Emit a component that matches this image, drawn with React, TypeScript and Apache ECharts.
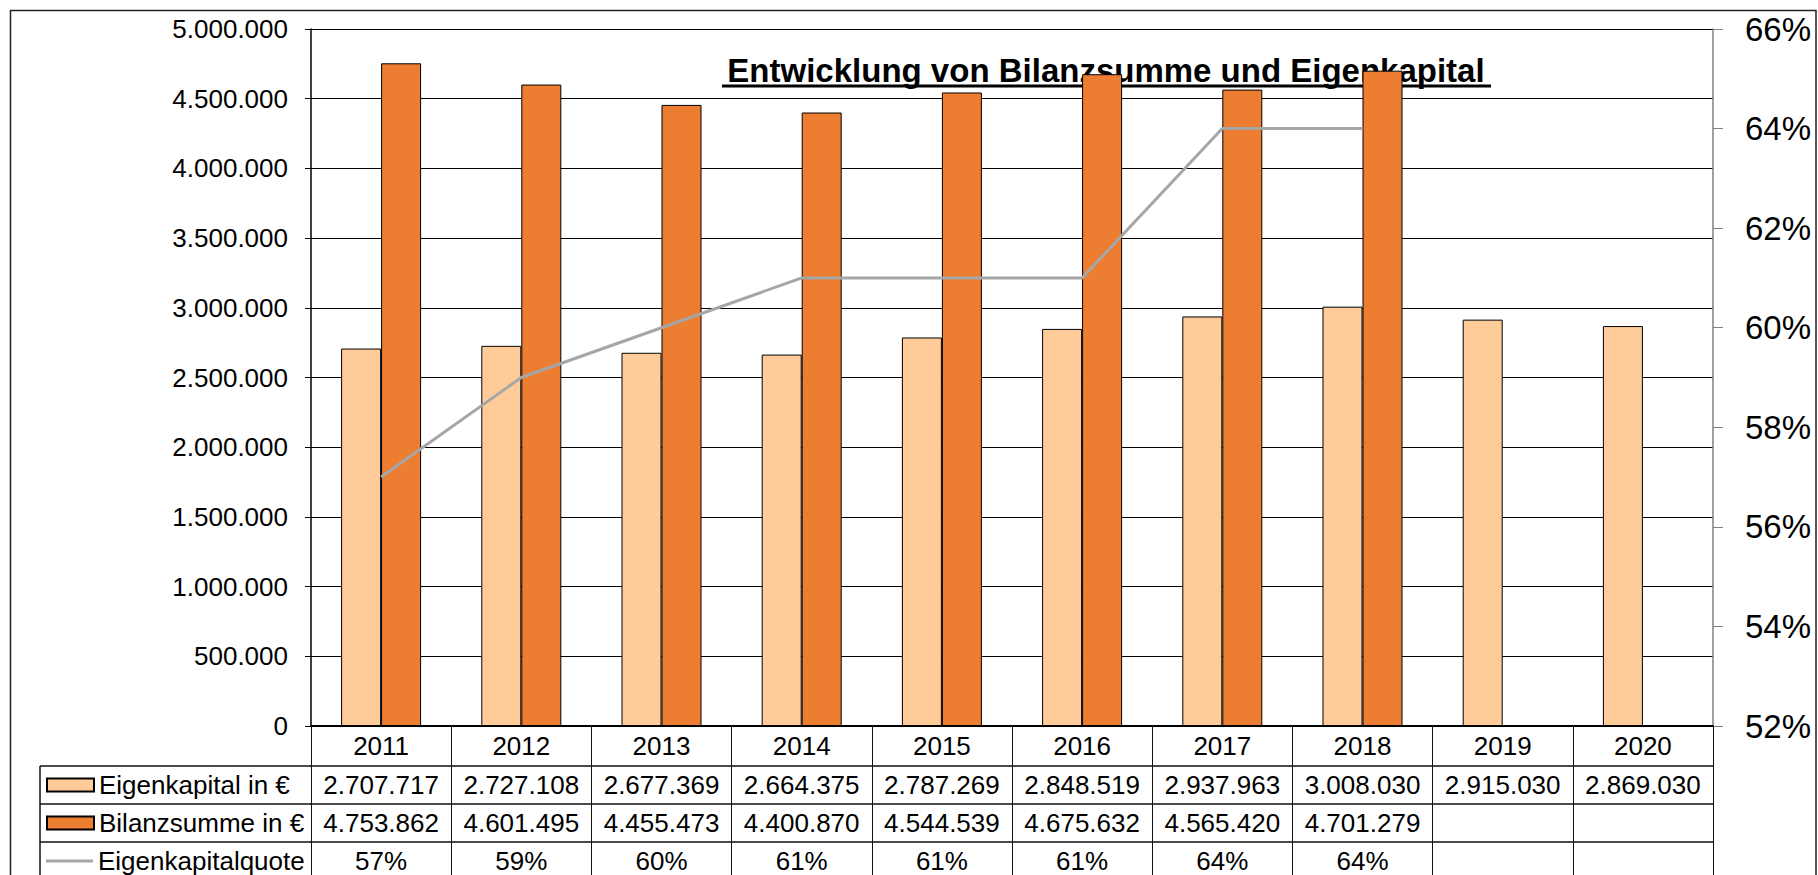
import React, { useEffect, useRef } from "react";
import * as echarts from "echarts";

// ---- data ----
const years = ["2011", "2012", "2013", "2014", "2015", "2016", "2017", "2018", "2019", "2020"];
const eigenkapital = [2707717, 2727108, 2677369, 2664375, 2787269, 2848519, 2937963, 3008030, 2915030, 2869030];
const bilanzsumme: (number | null)[] = [4753862, 4601495, 4455473, 4400870, 4544539, 4675632, 4565420, 4701279, null, null];
const quote: (number | null)[] = [57, 59, 60, 61, 61, 61, 64, 64, null, null];
const leftAxis = { min: 0, max: 5000000, interval: 500000 };
const rightAxis = { min: 52, max: 66, interval: 2 };
const seriesNames = ["Eigenkapital in €", "Bilanzsumme in €", "Eigenkapitalquote"];
const titleText = "Entwicklung von Bilanzsumme und Eigenkapital";

// ---- layout ----
const W = 1818;
const H = 875;
const GRID_LEFT = 311;
const GRID_RIGHT = 105;
const GRID_TOP = 29;
const GRID_BOTTOM = 149;
const YEAR_ROW = 40;
const ROW = 38;
const TABLE_LEFT = 40;
const FONT = "'Liberation Sans', Arial, Helvetica, sans-serif";

const fmt = (v: number | null) =>
  v == null ? "" : String(v).replace(/\B(?=(\d{3})+(?!\d))/g, ".");

export default function App() {
  const ref = useRef<HTMLDivElement>(null);

  useEffect(() => {
    if (!ref.current) return;
    const chart = echarts.init(ref.current, null, { renderer: "svg" });
    const axisBottom = H - GRID_BOTTOM;
    const rowTops = [axisBottom + YEAR_ROW, axisBottom + YEAR_ROW + ROW, axisBottom + YEAR_ROW + 2 * ROW];

    const rowAxis = (offset: number, labels: string[]) => ({
      type: "category",
      gridIndex: 0,
      position: "bottom",
      offset,
      data: years,
      axisLine: { show: true, onZero: false, lineStyle: { color: "#111", width: 1.5 } },
      axisTick: { show: true, length: ROW, lineStyle: { color: "#111", width: 1 } },
      axisLabel: {
        interval: 0,
        color: "#000",
        fontSize: 26,
        fontFamily: FONT,
        verticalAlign: "middle",
        margin: ROW / 2,
        formatter: (_v: string, i: number) => labels[i],
      },
      splitLine: { show: false },
    });

    const legendAt = (name: string, rowTop: number, iconH: number, itemStyle?: any) => ({
      data: [{ name, icon: "rect" }],
      left: 46,
      top: rowTop + ROW / 2 - 13,
      padding: 0,
      itemWidth: 47,
      itemHeight: iconH,
      selectedMode: false,
      ...(itemStyle ? { itemStyle } : {}),
      textStyle: { color: "#000", fontSize: 26, fontFamily: FONT },
    });

    chart.setOption({
      animation: false,
      backgroundColor: "#fff",
      textStyle: { fontFamily: FONT },
      grid: { left: GRID_LEFT, right: GRID_RIGHT, top: GRID_TOP, bottom: GRID_BOTTOM, containLabel: false },
      legend: [
        legendAt(seriesNames[0], rowTops[0], 13),
        legendAt(seriesNames[1], rowTops[1], 13),
        legendAt(seriesNames[2], rowTops[2], 3, { color: "#A6A6A6", borderWidth: 0 }),
      ],
      xAxis: [
        {
          type: "category",
          data: years,
          position: "bottom",
          axisLine: { show: true, onZero: false, lineStyle: { color: "#000", width: 2 } },
          axisTick: { show: true, length: YEAR_ROW, lineStyle: { color: "#111", width: 1 } },
          axisLabel: {
            interval: 0,
            color: "#000",
            fontSize: 26,
            fontFamily: FONT,
            verticalAlign: "middle",
            margin: YEAR_ROW / 2,
          },
          splitLine: { show: false },
        },
        rowAxis(YEAR_ROW, eigenkapital.map(fmt)),
        rowAxis(YEAR_ROW + ROW, bilanzsumme.map(fmt)),
        rowAxis(YEAR_ROW + 2 * ROW, quote.map((q) => (q == null ? "" : q + "%"))),
      ],
      yAxis: [
        {
          type: "value",
          min: leftAxis.min,
          max: leftAxis.max,
          interval: leftAxis.interval,
          position: "left",
          axisLine: { show: true, lineStyle: { color: "#000", width: 1.5 } },
          axisTick: { show: true, length: 6, lineStyle: { color: "#000" } },
          splitLine: { show: true, lineStyle: { color: "#000", width: 1 } },
          axisLabel: {
            color: "#000",
            fontSize: 26,
            fontFamily: FONT,
            margin: 23,
            formatter: (v: number) => fmt(v),
          },
        },
        {
          type: "value",
          min: rightAxis.min,
          max: rightAxis.max,
          interval: rightAxis.interval,
          position: "right",
          axisLine: { show: true, lineStyle: { color: "#808080", width: 1.5 } },
          axisTick: { show: true, length: 10, lineStyle: { color: "#808080" } },
          splitLine: { show: false },
          axisLabel: {
            color: "#000",
            fontSize: 33,
            fontFamily: FONT,
            margin: 32,
            formatter: (v: number) => v + "%",
          },
        },
      ],
      series: [
        {
          name: seriesNames[0],
          type: "bar",
          xAxisIndex: 0,
          yAxisIndex: 0,
          data: eigenkapital,
          barWidth: 40,
          barGap: "0%",
          itemStyle: { color: "#FFCC99", borderColor: "#000", borderWidth: 1 },
        },
        {
          name: seriesNames[1],
          type: "bar",
          xAxisIndex: 0,
          yAxisIndex: 0,
          data: bilanzsumme,
          barWidth: 40,
          barGap: "0%",
          itemStyle: { color: "#ED7D31", borderColor: "#000", borderWidth: 1 },
        },
        {
          name: seriesNames[2],
          type: "line",
          xAxisIndex: 0,
          yAxisIndex: 1,
          data: quote,
          symbol: "none",
          lineStyle: { color: "#A6A6A6", width: 3 },
          itemStyle: { color: "#A6A6A6" },
        },
      ],
      graphic: [
        {
          type: "rect",
          silent: true,
          shape: { x: 10.5, y: 10.5, width: 1805.5, height: 920 },
          style: { fill: "none", stroke: "#222", lineWidth: 1.5 },
        },
        {
          type: "text",
          silent: true,
          x: 1106,
          y: 70,
          style: {
            text: titleText,
            fill: "#000",
            font: `bold 33px ${FONT}`,
            align: "center",
            verticalAlign: "middle",
          },
        },
        {
          type: "line",
          silent: true,
          shape: { x1: 722, y1: 86, x2: 1491, y2: 86 },
          style: { stroke: "#000", lineWidth: 3 },
        },
        // legend column frame of the data table
        {
          type: "line",
          silent: true,
          shape: { x1: TABLE_LEFT, y1: rowTops[0], x2: TABLE_LEFT, y2: H + 20 },
          style: { stroke: "#111", lineWidth: 1.5 },
        },
        ...rowTops.map((y) => ({
          type: "line",
          silent: true,
          shape: { x1: TABLE_LEFT, y1: y, x2: GRID_LEFT, y2: y },
          style: { stroke: "#111", lineWidth: 1.5 },
        })),
      ],
    });
    return () => chart.dispose();
  }, []);

  return (
    <div
      ref={ref}
      style={{ position: "fixed", left: 0, top: 0, width: W, height: H, background: "#fff" }}
    />
  );
}
